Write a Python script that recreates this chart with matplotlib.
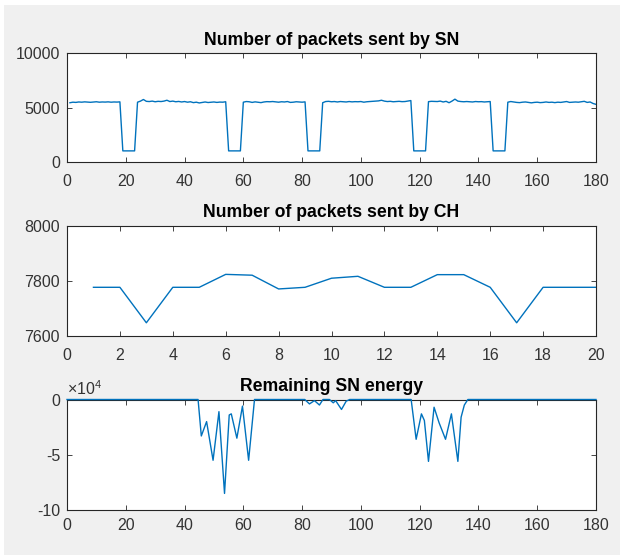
import matplotlib
matplotlib.use('Agg')
import matplotlib.pyplot as plt
from matplotlib.patches import Rectangle

plt.rcParams['font.family'] = ['Liberation Sans', 'DejaVu Sans']
plt.rcParams['axes.unicode_minus'] = False
plt.rcParams['mathtext.fontset'] = 'custom'
plt.rcParams['mathtext.rm'] = 'Liberation Sans'
plt.rcParams['mathtext.it'] = 'Liberation Sans:italic'

# ---------------- data ----------------
# Panel 1: packets sent by SN (rounds 1..180)
sn_rounds = list(range(1, 181))
sn_packets = (
    [5450, 5500, 5480, 5520, 5500, 5530, 5510, 5490, 5520, 5540, 5500, 5520,
     5510, 5530, 5500, 5520, 5510, 5530]
    + [1000, 1000, 1000, 1000, 1000]
    + [5500, 5600, 5750, 5580, 5560, 5600, 5540, 5580, 5560, 5600, 5680, 5560,
       5600, 5540, 5570, 5520, 5560, 5500, 5540, 5460, 5500, 5430, 5480, 5520,
       5470, 5500, 5520, 5480, 5510, 5500, 5540]
    + [1000, 1000, 1000, 1000, 1000]
    + [5500, 5560, 5540, 5480, 5530, 5500, 5460, 5520, 5550, 5540, 5560, 5530,
       5500, 5540, 5520, 5560, 5480, 5500, 5540, 5520, 5500, 5530]
    + [1000, 1000, 1000, 1000, 1000]
    + [5450, 5560, 5580, 5540, 5560, 5520, 5560, 5540, 5520, 5560, 5530, 5550,
       5540, 5560, 5500, 5540, 5560, 5580, 5600, 5620, 5680, 5600, 5560, 5580,
       5540, 5560, 5580, 5550, 5560, 5600, 5650]
    + [1000, 1000, 1000, 1000, 1000]
    + [5550, 5580, 5570, 5560, 5600, 5520, 5580, 5450, 5600, 5780, 5600, 5560,
       5540, 5560, 5540, 5520, 5560, 5540, 5550, 5520, 5540, 5560]
    + [1000, 1000, 1000, 1000, 1000]
    + [5500, 5560, 5520, 5480, 5460, 5500, 5520, 5480, 5440, 5480, 5500, 5460,
       5480, 5520, 5480, 5500, 5460, 5500, 5480, 5520, 5560, 5480, 5500, 5520,
       5500, 5540, 5580, 5480, 5520, 5380, 5300]
)

# Panel 2: packets sent by CH
ch_rounds = list(range(1, 21))
ch_packets = [7776, 7776, 7647, 7776, 7776, 7823, 7820, 7770, 7776, 7809,
              7816, 7776, 7776, 7822, 7822, 7776, 7647, 7776, 7776, 7776]

# Panel 3: remaining SN energy
energy_x = [0, 44.6, 45.7, 47.5, 49.7, 51.7, 53.6, 55.2, 55.9, 57.8, 59.7,
            61.8, 63.8, 80.9, 82.5, 84.2, 85.9, 87.1, 89.3, 90.6, 91.4, 93.4,
            95.0, 96.2, 117.1, 118.8, 120.6, 121.6, 123.0, 124.9, 126.6,
            128.8, 130.8, 133.0, 134.1, 135.2, 136.4, 180]
energy_y = [0, 0, -33000, -20000, -55000, -11000, -85000, -14000, -13000,
            -35000, -6000, -55000, 0, 0, -4000, -1000, -5000, 0, 0, -3000,
            -1000, -9000, -1500, 0, 0, -36000, -13000, -19000, -56000, -7000,
            -21000, -36000, -13000, -56000, -16000, -5000, 0, 0]

titles = ['Number of packets sent by SN', 'Number of packets sent by CH',
          'Remaining SN energy']

# ---------------- figure ----------------
W, H = 620, 555
fig = plt.figure(figsize=(W / 100, H / 100), dpi=100, facecolor='white')
fig.patches.append(Rectangle((4 / W, 0), 1, 1 - 5 / H, transform=fig.transFigure,
                             facecolor='#f0f0f0', edgecolor='none', zorder=-10))

LINE = '#0072BD'
DARK = '#262626'
LABEL = '#333333'


def make_ax(top_px, bottom_px, left_px=67, right_px=596):
    return fig.add_axes([left_px / W, 1 - bottom_px / H,
                         (right_px - left_px) / W, (bottom_px - top_px) / H])


def style(ax, title):
    ax.set_facecolor('white')
    for s in ax.spines.values():
        s.set_color(DARK)
        s.set_linewidth(0.8)
    ax.tick_params(direction='in', top=True, right=True, length=3.5, width=0.6,
                   colors=DARK, labelsize=11.5, labelcolor=LABEL)
    ax.tick_params(axis='x', pad=9)
    ax.tick_params(axis='y', pad=5)
    ax.set_title(title, fontsize=12.7, fontweight='bold', color='black', pad=6)


ax1 = make_ax(53.5, 161.7)
ax1.plot(sn_rounds, sn_packets, color=LINE, lw=1.0)
ax1.set_xlim(0, 180)
ax1.set_ylim(0, 10000)
ax1.set_xticks(range(0, 181, 20))
ax1.set_yticks([0, 5000, 10000])
style(ax1, titles[0])

ax2 = make_ax(225.7, 335.7)
ax2.plot(ch_rounds, ch_packets, color=LINE, lw=1.0)
ax2.set_xlim(0, 20)
ax2.set_ylim(7600, 8000)
ax2.set_xticks(range(0, 21, 2))
ax2.set_yticks([7600, 7800, 8000])
style(ax2, titles[1])

ax3 = make_ax(399.5, 510)
ax3.plot(energy_x, energy_y, color=LINE, lw=1.0, zorder=3, clip_on=False)
ax3.set_xlim(0, 180)
ax3.set_ylim(-100000, 0)
ax3.set_xticks(range(0, 181, 20))
ax3.set_yticks([-100000, -50000, 0])
ax3.set_yticklabels(['-10', '-5', '0'])
style(ax3, titles[2])
ax3.tick_params(axis='x', pad=6)
ax3.text(0, 1.015, r'$\times10^{4}$', transform=ax3.transAxes, fontsize=11.5,
         color=LABEL, ha='left', va='bottom')

fig.savefig('out.png', dpi=100, facecolor=fig.get_facecolor())
